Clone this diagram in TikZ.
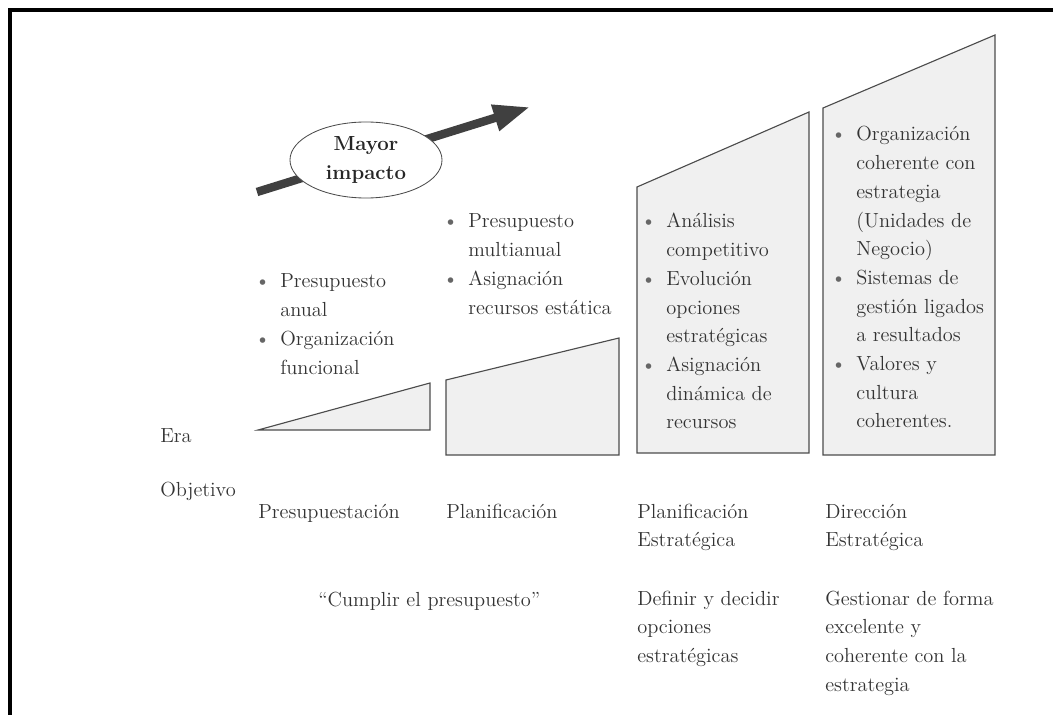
\documentclass[tikz,border=0pt]{standalone}
\usepackage{fontspec}
\usepackage{tikz}
\usetikzlibrary{shapes.geometric, arrows.meta, positioning}

\newcommand{\blt}{\textcolor{black!60}{\textbullet}}
\newcommand{\itm}{\llap{\blt\hspace{7pt}}}
\newcommand{\lns}[1]{\begin{tabular}[t]{@{}l@{}}#1\end{tabular}}

\begin{document}
\begin{tikzpicture}[x=0.025cm, y=-0.025cm,
    txt/.style={inner sep=0pt, anchor=base west, text=black!80,
                font=\fontsize{14.5}{20.4}\selectfont},
    era/.style={fill=black!6, draw=black!70, line width=0.8pt}]
\useasboundingbox (0,0) rectangle (1053,715);
\draw[line width=2.2pt] (1053,10) -- (10,10) -- (10,715);

% escalones
\draw[era] (258,430) -- (430,383) -- (430,430) -- cycle;
\draw[era] (446,455) -- (446,380) -- (619,338) -- (619,455) -- cycle;
\draw[era] (637,453) -- (637,187) -- (809,112) -- (809,453) -- cycle;
\draw[era] (823,455) -- (823,108) -- (995,35) -- (995,455) -- cycle;

% flecha
\coordinate (tail) at (257,192);
\coordinate (tip) at (530,107);
\draw[line width=6pt, black!75, -{Triangle[length=26pt, width=18pt]}] (tail) -- (tip);
\node[ellipse, draw=black!70, fill=white, line width=0.6pt,
      minimum width=3.8cm, minimum height=1.9cm, inner sep=0pt,
      align=center, text=black!85,
      font=\fontsize{14.5}{20}\selectfont\bfseries] (impacto) at (366,160) {Mayor\\impacto};

\node[txt] (b1) at (280,288) {\lns{\itm Presupuesto\\anual\\\itm Organización\\funcional}};
\node[txt] (b2) at (468,228) {\lns{\itm Presupuesto\\multianual\\\itm Asignación\\recursos estática}};
\node[txt] (b3) at (666,228) {\lns{\itm Análisis\\competitivo\\\itm Evolución\\opciones\\estratégicas\\\itm Asignación\\dinámica de\\recursos}};
\node[txt] (b4) at (856,141) {\lns{\itm Organización\\coherente con\\estrategia\\(Unidades de\\Negocio)\\\itm Sistemas de\\gestión ligados\\a resultados\\\itm Valores y\\cultura\\coherentes.}};

\node[txt] (era) at (160,442) {Era};
\node[txt] (obj) at (160,496) {Objetivo};
\node[txt] (e1) at (258,518) {Presupuestación};
\node[txt] (e2) at (446,518) {Planificación};
\node[txt] (e3) at (637,518) {\lns{Planificación\\Estratégica}};
\node[txt] (e4) at (825,518) {\lns{Dirección\\Estratégica}};
\node[txt] (o1) at (318,606) {``Cumplir el presupuesto''};
\node[txt] (o3) at (637,605) {\lns{Definir y decidir\\opciones\\estratégicas}};
\node[txt] (o4) at (825,605) {\lns{Gestionar de forma\\excelente y\\coherente con la\\estrategia}};
\end{tikzpicture}
\end{document}
